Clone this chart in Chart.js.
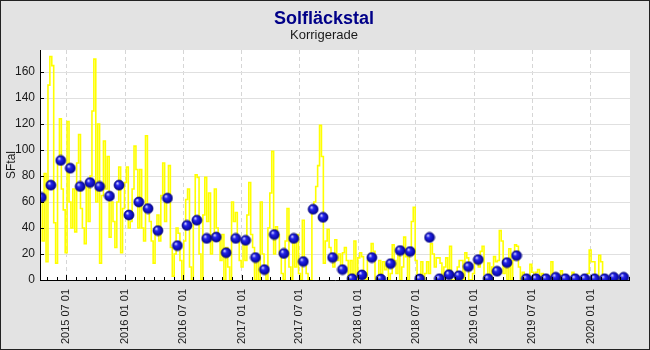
<!DOCTYPE html>
<html>
<head>
<meta charset="utf-8">
<title>Solfläckstal</title>
<script src="https://cdn.jsdelivr.net/npm/chart.js@4.4.1/dist/chart.umd.min.js"></script>
<style>
  html, body { margin: 0; padding: 0; background: #e3e3e3; }
  canvas { display: block; }
</style>
</head>
<body>
<canvas id="chart" width="650" height="350"></canvas>
<script>
// monthly mean values (blue balls), plotted mid-month
const monthLabels = [
  "2015-04", "2015-05", "2015-06", "2015-07", "2015-08", "2015-09", "2015-10", "2015-11", "2015-12",
  "2016-01", "2016-02", "2016-03", "2016-04", "2016-05", "2016-06", "2016-07", "2016-08", "2016-09", "2016-10", "2016-11", "2016-12",
  "2017-01", "2017-02", "2017-03", "2017-04", "2017-05", "2017-06", "2017-07", "2017-08", "2017-09", "2017-10", "2017-11", "2017-12",
  "2018-01", "2018-02", "2018-03", "2018-04", "2018-05", "2018-06", "2018-07", "2018-08", "2018-09", "2018-10", "2018-11", "2018-12",
  "2019-01", "2019-02", "2019-03", "2019-04", "2019-05", "2019-06", "2019-07", "2019-08", "2019-09", "2019-10", "2019-11", "2019-12",
  "2020-01", "2020-02", "2020-03", "2020-04"
];
const monthlyValues = [
  63.5, 73, 92, 86, 72, 75, 72, 64.5, 73,
  50, 60, 55, 38, 63, 26.5, 42, 46, 32, 33, 21, 32,
  30.5, 17.3, 8, 35, 20.4, 32, 14.2, 54.4, 48.2, 17.3, 8, 1,
  3.9, 17.3, 0.8, 12.6, 22.7, 21.9, 0.8, 32.8, 1, 4.1, 3.3, 10.3,
  15.7, 1, 6.7, 13.4, 18.8, 1, 1, 1, 2.1, 1, 1, 1,
  1, 1, 2.1, 2.1
];

// daily counts (yellow line), one reading every 6 days from 2015-04-10
const dailyStart = "2015-04-10";
const dailyStepDays = 6;
const dailyValues = [
  60, 30, 82, 14, 150, 172, 165, 44, 13, 90,
  124, 70, 54, 21, 122, 60, 40, 70, 37, 90,
  112, 55, 40, 28, 75, 45, 80, 130, 170, 60,
  120, 13, 65, 107, 70, 95, 33, 60, 45, 25,
  60, 87, 21, 55, 75, 87, 40, 45, 70, 103,
  85, 40,
  85, 40, 30, 111, 55, 45, 30, 13, 40, 50,
  30, 65, 90, 45, 60, 88, 25, 3, 20, 40,
  36, 15, 0, 30, 62, 70, 10, 0, 45, 81,
  79, 20, 0, 50, 79, 45, 67, 20, 35, 70,
  40, 30, 15, 35, 0, 25, 10, 0, 60, 45,
  52, 30, 15,
  10, 28, 15, 50, 75, 35, 25, 0, 15, 0,
  60, 20, 5, 0, 40, 67, 99, 20, 41, 35,
  20, 5, 0, 30, 55, 10, 0, 30, 10, 35,
  5, 0, 46, 15, 5, 0, 0, 54, 60, 72,
  88, 119, 95, 13, 30, 39, 25, 15, 10, 31,
  15, 20,
  10, 21, 25, 15, 0, 15, 5, 30, 0, 17,
  21, 18, 5, 0, 15, 20, 28, 22, 0, 0,
  15, 5, 14, 8, 12, 0, 5, 27, 15, 5,
  21, 0, 10, 33, 18, 0, 20, 45, 56, 15,
  0, 0, 14, 0, 5, 14, 5, 28, 20, 10,
  17,
  17, 13, 0, 10, 17, 8, 26, 0, 0, 5,
  10, 15, 15, 0, 21, 17, 0, 0, 5, 13,
  17, 10, 22, 26, 0, 0, 13, 0, 10, 18,
  14, 15, 38, 30, 5, 10, 0, 24, 0, 15,
  27, 26, 10, 0, 6, 0, 0, 0, 12, 6,
  0, 6, 8, 0, 5, 0, 0, 0, 0, 14,
  0, 0, 0, 0, 7, 0, 0, 0, 0, 0,
  6, 0, 0, 0, 0, 0, 0, 0, 5, 23,
  14, 14, 0, 0, 19, 14, 0, 0, 0, 0,
  0, 0, 0, 0, 0, 0, 0, 0, 0, 0
];

const tickLabels = [
  "2015 07 01", "2016 01 01", "2016 07 01", "2017 01 01", "2017 07 01",
  "2018 01 01", "2018 07 01", "2019 01 01", "2019 07 01", "2020 01 01"
];
const yTicks = [0, 20, 40, 60, 80, 100, 120, 140, 160];
const axisStart = "2015-04-09";
const axisEnd = "2020-05-03";
const yMax = 177;

const FONT = "'Liberation Sans', Arial, sans-serif";
const DAY0 = Date.UTC(2015, 6, 1);
const days = (y, m, d) => (Date.UTC(y, m - 1, d) - DAY0) / 864e5;
const parseDay = s => days(+s.slice(0, 4), +s.slice(5, 7), +s.slice(8, 10));

const tickDays = tickLabels.map(parseDay);
const monthPoints = monthLabels.map((s, i) => ({
  x: days(+s.slice(0, 4), +s.slice(5, 7), 13), y: monthlyValues[i]
}));
const d0 = parseDay(dailyStart);
const dailyPoints = dailyValues.map((v, i) => ({ x: d0 + i * dailyStepDays, y: v }));

function makeBall(r) {
  const c = document.createElement("canvas");
  const s = r * 2 + 2;
  c.width = c.height = s;
  const g = c.getContext("2d");
  const grad = g.createRadialGradient(s / 2 - r * 0.35, s / 2 - r * 0.4, r * 0.1, s / 2, s / 2, r);
  grad.addColorStop(0, "#c8c8ff");
  grad.addColorStop(0.3, "#2626ea");
  grad.addColorStop(1, "#00009a");
  g.fillStyle = grad;
  g.beginPath();
  g.arc(s / 2, s / 2, r, 0, Math.PI * 2);
  g.fill();
  g.strokeStyle = "#000070";
  g.lineWidth = 0.7;
  g.stroke();
  return c;
}
const ball = makeBall(5);

const frame = {
  id: "frame",
  beforeDraw(chart) {
    const { ctx, chartArea: a } = chart;
    ctx.save();
    ctx.fillStyle = "#e3e3e3";
    ctx.fillRect(0, 0, chart.width, chart.height);
    ctx.fillStyle = "#ffffff";
    ctx.fillRect(a.left, a.top, a.right - a.left, a.bottom - a.top);
    ctx.restore();
  },
  afterDatasetsDraw(chart) {
    const { ctx, chartArea: a, scales } = chart;
    ctx.save();
    ctx.strokeStyle = "#000";
    ctx.lineWidth = 1;
    ctx.beginPath();
    ctx.moveTo(a.left + 0.5, a.top);
    ctx.lineTo(a.left + 0.5, a.bottom + 0.5);
    ctx.lineTo(a.right, a.bottom + 0.5);
    // month ticks along the bottom axis
    const xs = scales.x;
    for (let y = 2015; y <= 2020; y++) {
      for (let m = 1; m <= 12; m++) {
        const d = days(y, m, 1);
        if (d < xs.min || d > xs.max) continue;
        const px = Math.round(xs.getPixelForValue(d)) + 0.5;
        const len = (m === 1 || m === 7) ? 5 : 3;
        ctx.moveTo(px, a.bottom);
        ctx.lineTo(px, a.bottom - len);
      }
    }
    // value ticks on the left axis
    yTicks.forEach(v => {
      const py = Math.round(scales.y.getPixelForValue(v)) + 0.5;
      ctx.moveTo(a.left, py);
      ctx.lineTo(a.left + 4, py);
    });
    ctx.stroke();
    ctx.restore();
  },
  afterDraw(chart) {
    const ctx = chart.ctx;
    ctx.save();
    ctx.textAlign = "center";
    ctx.fillStyle = "#000088";
    ctx.font = "bold 18px " + FONT;
    ctx.fillText("Solfläckstal", 324, 24);
    ctx.fillStyle = "#1a1a1a";
    ctx.font = "13px " + FONT;
    ctx.fillText("Korrigerade", 324, 39);
    ctx.strokeStyle = "#222";
    ctx.lineWidth = 1;
    ctx.strokeRect(0.5, 0.5, chart.width - 1, chart.height - 1);
    ctx.restore();
  }
};

new Chart(document.getElementById("chart"), {
  type: "scatter",
  data: {
    datasets: [
      {
        label: "Månadsmedel",
        data: monthPoints,
        pointStyle: ball,
        pointRadius: 5,
        pointHoverRadius: 5
      },
      {
        label: "Dagligt",
        data: dailyPoints,
        showLine: true,
        stepped: true,
        borderColor: "#ffff00",
        borderWidth: 1.6,
        pointRadius: 0,
        fill: false
      }
    ]
  },
  options: {
    responsive: false,
    animation: false,
    events: [],
    layout: { padding: { top: 50, right: 20, left: 0, bottom: 0 } },
    plugins: {
      legend: { display: false },
      tooltip: { enabled: false },
      title: { display: false }
    },
    scales: {
      x: {
        type: "linear",
        min: parseDay(axisStart),
        max: parseDay(axisEnd),
        afterBuildTicks: s => { s.ticks = tickDays.map(v => ({ value: v })); },
        afterFit: s => { s.height = 70; },
        grid: { color: "#d6d6d6", drawTicks: false },
        border: { display: false, dash: [4, 3] },
        ticks: {
          autoSkip: false, minRotation: 90, maxRotation: 90, padding: 9,
          color: "#1a1a1a", font: { family: FONT, size: 11 },
          callback: (v, i) => tickLabels[i]
        }
      },
      y: {
        min: 0,
        max: yMax,
        afterBuildTicks: s => { s.ticks = yTicks.map(v => ({ value: v })); },
        afterFit: s => { s.width = 40; },
        grid: { color: "#e0e0e0", drawTicks: false },
        border: { display: false },
        ticks: { padding: 5, color: "#1a1a1a", font: { family: FONT, size: 12 } },
        title: {
          display: true, text: "SFtal", color: "#1a1a1a",
          font: { family: FONT, size: 12 }, padding: { top: 4, bottom: 0 }
        }
      }
    }
  },
  plugins: [frame]
});
</script>
</body>
</html>
